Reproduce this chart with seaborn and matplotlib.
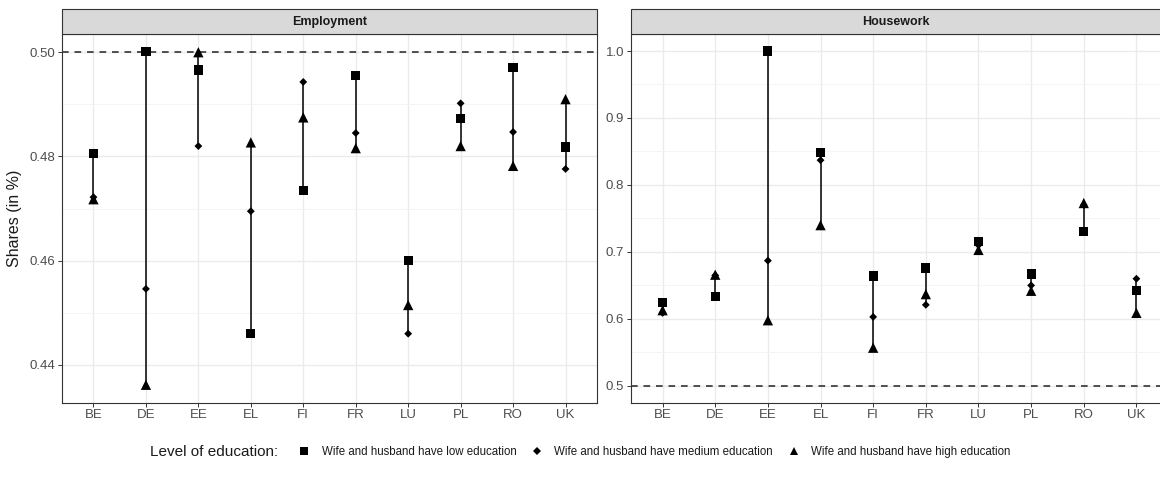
import numpy as np
import pandas as pd
import matplotlib
matplotlib.use("Agg")
import matplotlib.pyplot as plt
import seaborn as sns
from matplotlib.patches import Rectangle
from matplotlib.lines import Line2D
from matplotlib.ticker import MultipleLocator, FormatStrFormatter

countries = ["BE", "DE", "EE", "EL", "FI", "FR", "LU", "PL", "RO", "UK"]
levels = ["low", "medium", "high"]
level_labels = ["Wife and husband have low education",
                "Wife and husband have medium education",
                "Wife and husband have high education"]

emp_low = [0.4806, 0.5002, 0.4966, 0.4460, 0.4734, 0.4956, 0.4600, 0.4873, 0.4971, 0.4818]
emp_medium = [0.4722, 0.4546, 0.4820, 0.4695, 0.4943, 0.4845, 0.4460, 0.4902, 0.4847, 0.4776]
emp_high = [0.4718, 0.4362, 0.5000, 0.4827, 0.4875, 0.4816, 0.4515, 0.4820, 0.4782, 0.4910]

hw_low = [0.625, 0.633, 1.000, 0.848, 0.664, 0.676, 0.716, 0.667, 0.731, 0.642]
hw_medium = [0.609, 0.665, 0.687, 0.837, 0.603, 0.621, 0.710, 0.650, 0.770, 0.660]
hw_high = [0.613, 0.666, 0.598, 0.740, 0.557, 0.637, 0.703, 0.642, 0.773, 0.609]

rows = []
for panel, series in [("Employment", [emp_low, emp_medium, emp_high]),
                      ("Housework", [hw_low, hw_medium, hw_high])]:
    for lev, vals in zip(levels, series):
        for c, v in zip(countries, vals):
            rows.append({"panel": panel, "country": c, "education": lev, "value": v})
df = pd.DataFrame(rows)

sns.set_theme(style="white")
plt.rcParams["font.family"] = ["Liberation Sans", "DejaVu Sans"]

W, H = 1160, 491
fig = plt.figure(figsize=(W / 100, H / 100), dpi=100)

def frac_box(x0, x1, ytop, ybot):
    return [x0 / W, 1 - ybot / H, (x1 - x0) / W, (ybot - ytop) / H]

axL = fig.add_axes(frac_box(62, 597, 34, 402.5))
axR = fig.add_axes(frac_box(631, 1168, 34, 402.5))

markers = {"low": "s", "medium": "D", "high": "^"}
sizes = {"low": 44, "medium": 16, "high": 55}

panel_cfg = {
    "Employment": dict(ax=axL, ylim=(0.4328, 0.5035), major=0.02, minor=0.01, fmt="%.2f"),
    "Housework": dict(ax=axR, ylim=(0.4752, 1.0254), major=0.1, minor=0.05, fmt="%.1f"),
}

for panel, cfg in panel_cfg.items():
    ax = cfg["ax"]
    sub = df[df.panel == panel]
    agg = sub.groupby("country")["value"].agg(["min", "max"]).reindex(countries)
    ax.vlines(countries, agg["min"], agg["max"], color="black", lw=1.1, zorder=3)
    sns.scatterplot(data=sub, x="country", y="value", style="education", size="education",
                    style_order=levels, size_order=levels, markers=markers, sizes=sizes,
                    color="black", edgecolor="none", linewidth=0, legend=False, ax=ax, zorder=4)
    ax.axhline(0.5, color="#333333", lw=1.2, ls=(0, (4, 3.5)), zorder=2)
    ax.set_xlim(-0.6, len(countries) - 0.4)
    ax.set_ylim(*cfg["ylim"])
    ax.yaxis.set_major_locator(MultipleLocator(cfg["major"]))
    ax.yaxis.set_minor_locator(MultipleLocator(cfg["minor"]))
    ax.yaxis.set_major_formatter(FormatStrFormatter(cfg["fmt"]))
    ax.grid(True, which="major", color="#EBEBEB", lw=1.0, zorder=0)
    ax.grid(True, which="minor", axis="y", color="#F2F2F2", lw=0.6, zorder=0)
    ax.set_axisbelow(True)
    ax.set_xlabel("")
    ax.set_ylabel("")
    for s in ax.spines.values():
        s.set_color("#333333")
        s.set_linewidth(0.8)
    ax.tick_params(axis="both", which="major", length=3, width=0.7, color="#333333",
                   labelcolor="#4D4D4D", labelsize=9.5, pad=2, bottom=True, left=True)
    ax.tick_params(axis="y", which="minor", length=0, left=False)
    # facet strip
    h = 24.5 / 368.5
    ax.add_patch(Rectangle((0, 1), 1, h, transform=ax.transAxes, facecolor="#D9D9D9",
                           edgecolor="#333333", lw=0.8, clip_on=False, zorder=5))
    ax.text(0.5 if panel == "Employment" else (1080 - 631 - 0) / 537 * 0 + 0.5 * (1160 - 631) / 537,
            1 + h / 2, panel, transform=ax.transAxes, ha="center", va="center",
            fontsize=9, fontweight="bold", color="#1A1A1A", zorder=6)

axL.set_ylabel("Shares (in %)", fontsize=11.5, color="#1A1A1A", labelpad=5)

# legend
fig.text(150 / W, 1 - 452 / H, "Level of education:", fontsize=11, color="#1A1A1A",
         ha="left", va="center")
handles = [Line2D([], [], ls="none", marker=markers[l], color="black",
                  markersize=np.sqrt(sizes[l]) * (0.8 if l != "medium" else 0.9),
                  markeredgewidth=0) for l in levels]
fig.legend(handles, level_labels, loc="center left", bbox_to_anchor=(287 / W, 1 - 452 / H),
           ncol=3, frameon=False, fontsize=8.3, handletextpad=0.9, columnspacing=1.2,
           handlelength=1.2, labelcolor="#1A1A1A")

fig.savefig("out.png", dpi=100)
